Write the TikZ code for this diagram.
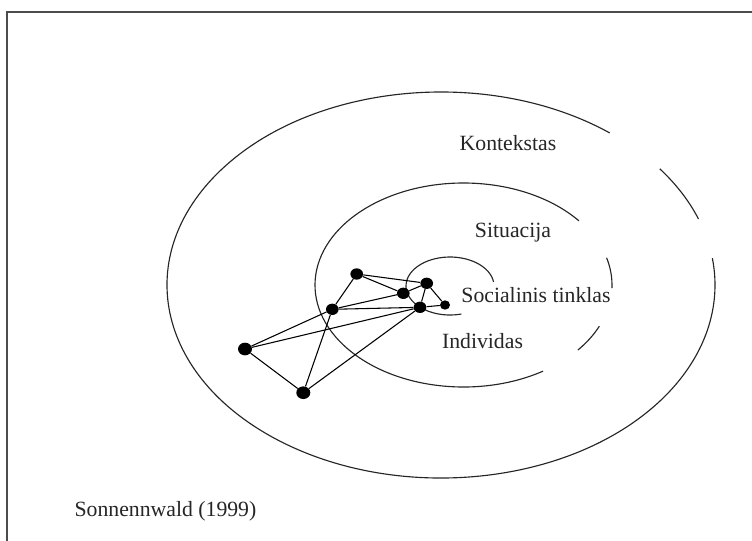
\documentclass[tikz,border=0pt]{standalone}
\usepackage{fontspec}
\setmainfont{Liberation Serif}
\usetikzlibrary{shapes.geometric}
\begin{document}
\begin{tikzpicture}[x=0.75pt,y=-0.75pt,
  dot/.style={ellipse,fill=black,inner sep=0pt,minimum width=9.5pt,minimum height=8.5pt},
  bigdot/.style={dot,minimum width=10.5pt,minimum height=9.5pt},
  smalldot/.style={dot,minimum width=7.5pt,minimum height=7pt},
  ring/.style={line width=0.85pt,black!85},
  link/.style={line width=0.8pt,black},
  lbl/.style={font=\fontsize{16.3}{19}\selectfont,text=black!85,inner sep=0pt}]
\useasboundingbox (0,0) rectangle (752,540);
\clip (0,0) rectangle (752,540);
\fill[white] (0,0) rectangle (752,540);
% frame
\draw[line width=1.3pt,black!70] (7,12) rectangle (800,600);
% outer ring (Kontekstas)
\draw[ring] (441,285) ++(-52:274 and 193) arc[start angle=-52,end angle=-368,x radius=274,y radius=193];
\draw[ring] (441,285) ++(-20:274 and 193) arc[start angle=-20,end angle=-37,x radius=274,y radius=193];
% middle ring (Situacija)
\draw[ring] (463.5,285) ++(-39:148.5 and 102) arc[start angle=-39,end angle=-302.4,x radius=148.5,y radius=102];
\draw[ring] (463.5,285) ++(1.7:148.5 and 102) arc[start angle=1.7,end angle=-15.5,x radius=148.5,y radius=102];
\draw[ring] (463.5,285) ++(39.6:148.5 and 102) arc[start angle=39.6,end angle=23.8,x radius=148.5,y radius=102];
% inner ring (Socialinis tinklas)
\draw[ring] (450,286) ++(-8:44 and 29) arc[start angle=-8,end angle=-285,x radius=44,y radius=29];
% nodes
\node[dot] (n1) at (356.7,274) {};
\node[dot] (n2) at (426.7,283.3) {};
\node[dot] (n3) at (403.3,293.3) {};
\node[smalldot] (n4) at (445,305) {};
\node[dot] (n5) at (420,307.3) {};
\node[dot] (n6) at (332.3,309.3) {};
\node[bigdot] (n7) at (245,349) {};
\node[bigdot] (n8) at (303.3,392.7) {};
% links
\draw[link] (n1) -- (n2);
\draw[link] (n1) -- (n3);
\draw[link] (n1) -- (n6);
\draw[link] (n2) -- (n3);
\draw[link] (n2) -- (n5);
\draw[link] (n2) -- (n4);
\draw[link] (n5) -- (n4);
\draw[link] (n6) -- (n3);
\draw[link] (n6) -- (n5);
\draw[link] (n6) -- (n7);
\draw[link] (n6) -- (n8);
\draw[link] (n7) -- (n5);
\draw[link] (n7) -- (n8);
\draw[link] (n8) -- (n5);
% labels
\node[lbl] (kont) at (508,143) {Kontekstas};
\node[lbl] (sit) at (513,233) {Situacija};
\node[lbl] (soc) at (536,295) {Socialinis tinklas};
\node[lbl] (ind) at (482.5,341) {Individas};
\node[lbl] (src) at (165.5,511) {Sonnennwald (1999)};
\end{tikzpicture}
\end{document}
